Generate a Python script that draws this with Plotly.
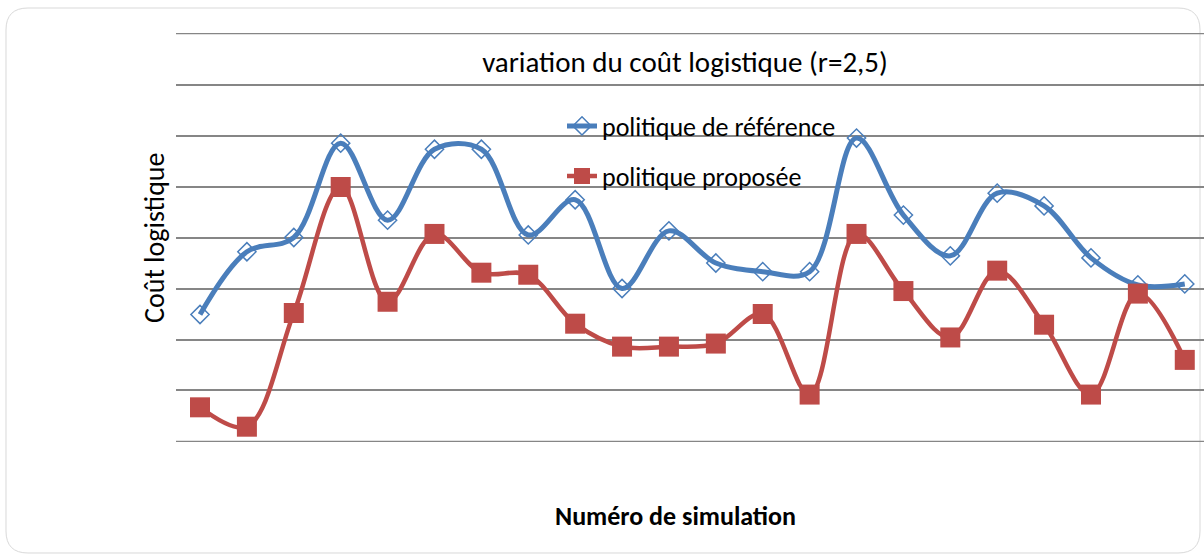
import plotly.graph_objects as go

# Simulation numbers and logistic cost for the two policies
simulations = list(range(1, 23))
politique_reference = [2.49, 3.72, 4.00, 5.85, 4.34, 5.73, 5.73, 4.05, 4.74, 3.00, 4.13,
                       3.50, 3.33, 3.33, 5.95, 4.44, 3.64, 4.87, 4.62, 3.60, 3.07, 3.09]
politique_proposee = [0.67, 0.29, 2.52, 4.99, 2.74, 4.07, 3.31, 3.27, 2.31, 1.86, 1.86,
                      1.92, 2.50, 0.92, 4.07, 2.95, 2.04, 3.35, 2.29, 0.92, 2.90, 1.60]

W, H = 1204, 557
ML, MR, MT, MB = 176, 0, 33, 115
PW, PH = W - ML - MR, H - MT - MB

FONT = "Calibri, Carlito, Lato, sans-serif"
BLUE = "#4A7EBB"
RED = "#BE4B48"
GRID = "#868686"

fig = go.Figure()
fig.add_trace(go.Scatter(
    x=simulations, y=politique_reference, name="politique de référence",
    mode="lines+markers", line=dict(color=BLUE, width=5, shape="spline", smoothing=1),
    marker=dict(symbol="diamond-open", size=14, color=BLUE, line=dict(width=1.5, color=BLUE)),
    legend="legend", showlegend=True,
))
fig.add_trace(go.Scatter(
    x=simulations, y=politique_proposee, name="politique proposée",
    mode="lines+markers", line=dict(color=RED, width=4.5, shape="spline", smoothing=1),
    marker=dict(symbol="square", size=20, color=RED),
    legend="legend2", showlegend=True,
))


def px_to_paper(px, py):
    return (px - ML) / PW, (H - MB - py) / PH


def rounded_rect(x0, y0, x1, y1, r):
    pts = []

    def P(cmd, *coords):
        out = []
        for i in range(0, len(coords), 2):
            a, b = px_to_paper(coords[i], coords[i + 1])
            out.append(f"{a:.5f},{b:.5f}")
        pts.append(cmd + " " + " ".join(out))

    P("M", x0 + r, y0)
    P("L", x1 - r, y0)
    P("Q", x1, y0, x1, y0 + r)
    P("L", x1, y1 - r)
    P("Q", x1, y1, x1 - r, y1)
    P("L", x0 + r, y1)
    P("Q", x0, y1, x0, y1 - r)
    P("L", x0, y0 + r)
    P("Q", x0, y0, x0 + r, y0)
    return " ".join(pts) + " Z"


LEG_X = (562 - ML) / PW
Y_MIN, Y_MAX = 0, 8

# Edge gridlines (bottom and top of the value range)
edge_lines = [dict(type="line", xref="paper", yref="y", x0=0, x1=1, y0=v, y1=v,
                   line=dict(color=GRID, width=1.5), layer="below")
              for v in (Y_MIN, Y_MAX)]

fig.update_layout(
    width=W, height=H,
    margin=dict(l=ML, r=MR, t=MT, b=MB),
    paper_bgcolor="white", plot_bgcolor="white",
    font=dict(family=FONT, color="black"),
    showlegend=True,
    title=dict(text="variation du coût logistique (r=2,5)", x=685 / W, y=1 - 62 / H,
               xanchor="center", yanchor="middle", font=dict(size=29, family=FONT)),
    xaxis=dict(range=[0.488, 22.41], showgrid=False, showticklabels=False,
               zeroline=False, showline=False, ticks=""),
    yaxis=dict(range=[Y_MIN - 0.01, Y_MAX + 0.01], tick0=0, dtick=1, showgrid=True,
               gridcolor=GRID, gridwidth=1.5, showticklabels=False, zeroline=False,
               showline=False, ticks=""),
    legend=dict(x=LEG_X, y=(H - MB - 126) / PH, xanchor="left", yanchor="middle",
                bgcolor="rgba(0,0,0,0)", font=dict(size=26, family=FONT)),
    legend2=dict(x=LEG_X, y=(H - MB - 176) / PH, xanchor="left", yanchor="middle",
                 bgcolor="rgba(0,0,0,0)", font=dict(size=26, family=FONT)),
    annotations=[
        dict(text="Coût logistique", xref="paper", yref="paper",
             x=(155 - ML) / PW, y=(H - MB - 238) / PH, textangle=-90,
             xanchor="center", yanchor="middle",
             showarrow=False, font=dict(size=28, family=FONT)),
        dict(text="<b>Numéro de simulation</b>", xref="paper", yref="paper",
             x=(675 - ML) / PW, y=(H - MB - 516) / PH,
             xanchor="center", yanchor="middle",
             showarrow=False, font=dict(size=26, family=FONT)),
    ],
    shapes=[dict(type="path", xref="paper", yref="paper",
                 path=rounded_rect(6, 8, 1200, 553, 22),
                 line=dict(color="#D9D9D9", width=1), layer="below")] + edge_lines,
)

fig.write_html("out.html")
